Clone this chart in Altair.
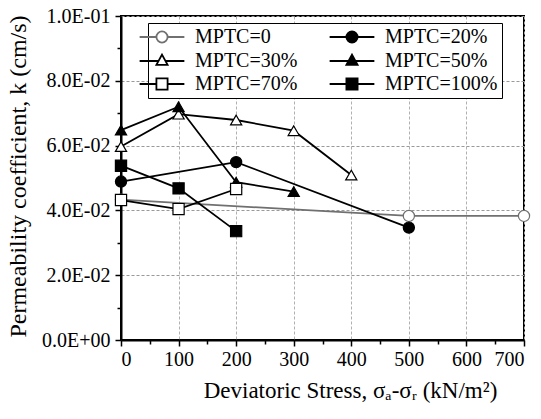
import altair as alt
import pandas as pd

# ---------------- data ----------------
series = ["MPTC=0", "MPTC=20%", "MPTC=30%", "MPTC=50%", "MPTC=70%", "MPTC=100%"]

stress_0 = [0, 500, 700]
k_0 = [0.0433, 0.0383, 0.0383]

stress_20 = [0, 200, 500]
k_20 = [0.0489, 0.0549, 0.0347]

stress_30 = [0, 100, 200, 300, 400]
k_30 = [0.0597, 0.0697, 0.0679, 0.0646, 0.0509]

stress_50 = [0, 100, 200, 300]
k_50 = [0.0648, 0.0720, 0.0487, 0.0458]

stress_70 = [0, 100, 200]
k_70 = [0.0432, 0.0404, 0.0466]

stress_100 = [0, 100, 200]
k_100 = [0.0538, 0.0468, 0.0336]

x_ticks = [0, 100, 200, 300, 400, 500, 600, 700]
x_minor = [50, 150, 250, 350, 450, 550, 650]
y_ticks = [0.0, 0.02, 0.04, 0.06, 0.08, 0.10]
y_minor = [0.01, 0.03, 0.05, 0.07, 0.09]

all_stress = [stress_0, stress_20, stress_30, stress_50, stress_70, stress_100]
all_k = [k_0, k_20, k_30, k_50, k_70, k_100]

rows = []
for s, xs, ys in zip(series, all_stress, all_k):
    for xv, yv in zip(xs, ys):
        rows.append({"series": s, "stress": xv, "k": yv})
df = pd.DataFrame(rows)

# ---------------- styles ----------------
FONT = "Liberation Serif"
shapes = ["circle", "circle", "triangle-up", "triangle-up", "square", "square"]
fills = ["white", "black", "white", "black", "white", "black"]
strokes = ["#707070", "black", "black", "black", "black", "black"]
line_colors = ["#707070", "black", "black", "black", "black", "black"]

CIRC = "M-4,0H-1M1,0H4M1,0A1,1,0,1,1,-1,0A1,1,0,1,1,1,0Z"
TRI = "M-4,0H-0.62M0.62,0H4M0,-1.15L1,0.7L-1,0.7Z"
SQR = "M-4,0H-1M1,0H4M-1,-1H1V1H-1Z"
legend_paths = [CIRC, CIRC, TRI, TRI, SQR, SQR]

x_scale = alt.Scale(domain=[0, 700], nice=False)
y_scale = alt.Scale(domain=[0, 0.1], nice=False)

y_label_expr = "replace(replace(format(datum.value, '.1e'), 'e-', 'E-0'), 'e+', 'E+0')"

x_axis = alt.Axis(
    values=x_ticks, title="Deviatoric Stress, σₐ-σᵣ (kN/m²)",
    titleFont=FONT, titleFontSize=23, titleFontWeight="normal", titleColor="black",
    titleX=229, titleY=57, titleBaseline="alphabetic", titleAnchor="middle", titleAlign="center",
    labelFont=FONT, labelFontSize=20, labelColor="black", labelPadding=3,
    tickSize=6, tickWidth=1.5, tickColor="black",
    domainColor="black", domainWidth=2,
    grid=True, gridColor="#b0b0b0", gridDash=[3, 2], gridWidth=1,
)
y_axis = alt.Axis(
    values=y_ticks, title="Permeability coefficient, k (cm/s)", labelExpr=y_label_expr,
    titleFont=FONT, titleFontSize=24, titleFontWeight="normal", titleColor="black",
    titleX=-96, titleY=160, titleBaseline="alphabetic", titleAngle=-90, titleAlign="center",
    labelFont=FONT, labelFontSize=20, labelColor="black", labelPadding=5,
    tickSize=6, tickWidth=1.5, tickColor="black",
    domainColor="black", domainWidth=2,
    grid=True, gridColor="#999999", gridDash=[3, 2], gridWidth=1,
)

base = alt.Chart(df)

lines = base.mark_line(strokeWidth=1.8).encode(
    x=alt.X("stress:Q", scale=x_scale, axis=x_axis),
    y=alt.Y("k:Q", scale=y_scale, axis=y_axis),
    detail="series:N",
    color=alt.Color("series:N", scale=alt.Scale(domain=series, range=line_colors), legend=None),
    order="stress:Q",
)

points = base.mark_point(filled=False, size=125, strokeWidth=1.2, opacity=1).encode(
    x=alt.X("stress:Q", scale=x_scale, axis=None),
    y=alt.Y("k:Q", scale=y_scale, axis=None),
    shape=alt.Shape("series:N", scale=alt.Scale(domain=series, range=shapes), legend=None),
    fill=alt.Fill("series:N", scale=alt.Scale(domain=series, range=fills), legend=None),
    stroke=alt.Stroke("series:N", scale=alt.Scale(domain=series, range=strokes), legend=None),
)

leg = alt.Legend(
    title=None, orient="none", legendX=27, legendY=7, columns=2, direction="horizontal",
    labelFont=FONT, labelFontSize=20, labelColor="black", labelOffset=23,
    symbolSize=125, symbolStrokeWidth=1.8,
    columnPadding=28, rowPadding=3, padding=4,
    strokeColor="black", fillColor="white", labelLimit=300,
)

legend_layer = base.transform_filter("false").mark_point(size=125, opacity=1).encode(
    x=alt.X("stress:Q", scale=x_scale,
            axis=alt.Axis(orient="bottom", values=x_minor, labels=False, grid=False, domain=False,
                          tickSize=4, tickWidth=1.5, tickColor="black", title=None)),
    y=alt.Y("k:Q", scale=y_scale,
            axis=alt.Axis(orient="left", values=y_minor, labels=False, grid=False, domain=False,
                          tickSize=4, tickWidth=1.5, tickColor="black", title=None)),
    shape=alt.Shape("series:N", scale=alt.Scale(domain=series, range=legend_paths), legend=leg),
    fill=alt.Fill("series:N", scale=alt.Scale(domain=series, range=fills), legend=leg),
    stroke=alt.Stroke("series:N", scale=alt.Scale(domain=series, range=strokes), legend=leg),
)

chart = (
    alt.layer(lines, points, legend_layer)
    .resolve_scale(shape="independent", fill="independent", stroke="independent")
    .resolve_axis(x="independent", y="independent")
    .properties(
        width=403, height=324, autosize="none",
        padding={"left": 121, "top": 16, "right": 17, "bottom": 79},
    )
    .configure(background="white", font=FONT)
    .configure_axis(labelFont=FONT, titleFont=FONT)
    .configure_legend(labelFont=FONT, titleFont=FONT)
    .configure_text(font=FONT)
    .configure_view(stroke="black", strokeWidth=2)
)

chart.save("out.html", embed_options={"renderer": "svg", "actions": False})
